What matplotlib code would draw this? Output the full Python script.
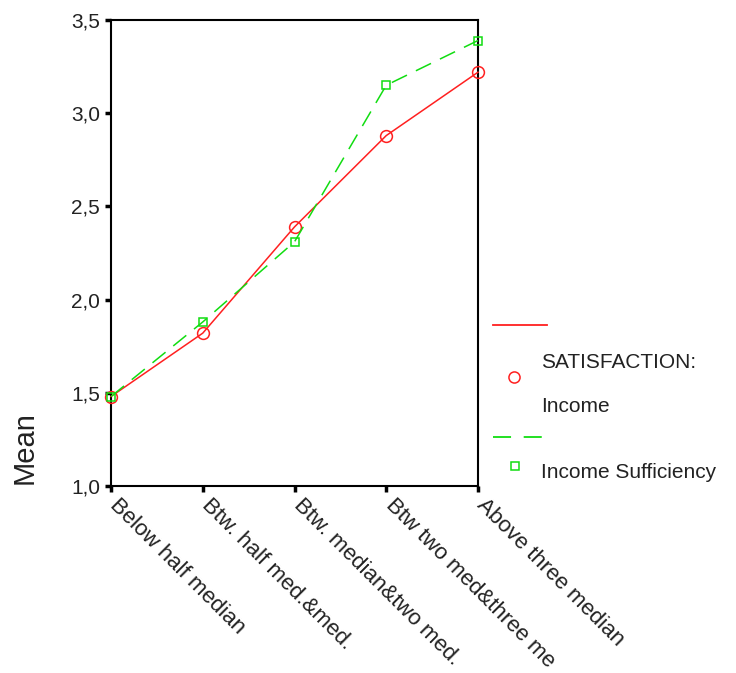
import numpy as np
import matplotlib
matplotlib.use("Agg")
import matplotlib.pyplot as plt
from matplotlib.lines import Line2D
from matplotlib.ticker import FuncFormatter
from matplotlib.transforms import ScaledTranslation

plt.rcParams['font.family'] = ['Liberation Sans', 'DejaVu Sans']

# Data
categories = ['Below half median', 'Btw. half med.&med.', 'Btw. median&two med.',
              'Btw two med&three me', 'Above three median']
satisfaction = [1.48, 1.82, 2.39, 2.88, 3.22]
sufficiency = [1.48, 1.88, 2.31, 3.15, 3.39]
yticks = [1.0, 1.5, 2.0, 2.5, 3.0, 3.5]

RED = '#ff2020'
GREEN = '#11dd11'
TXT = '#222222'

W, H = 736, 673
fig = plt.figure(figsize=(W / 100, H / 100), dpi=100)

def fx(px):
    return px / W

def fy(py):
    return 1 - py / H

ax = fig.add_axes([fx(111), fy(486), fx(478) - fx(111), fy(20) - fy(486)])

x = np.arange(len(categories))
ax.plot(x, satisfaction, color=RED, lw=1.1, marker='o', ms=8.5,
        mfc='none', mec=RED, mew=1.1, clip_on=False, zorder=3)
ax.plot(x, sufficiency, color=GREEN, lw=1.1, ls=(0, (11, 6.5)), marker='s', ms=6,
        mfc='none', mec=GREEN, mew=1.1, clip_on=False, zorder=3)

ax.set_xlim(0, len(categories) - 1)
ax.set_ylim(1.0, 3.5)
ax.set_yticks(yticks)
ax.yaxis.set_major_formatter(FuncFormatter(lambda v, p: f'{v:.1f}'.replace('.', ',')))
ax.set_xticks(x)
ax.set_xticklabels(categories, rotation=-45, ha='left', va='top',
                   rotation_mode='anchor', fontsize=16)
ax.tick_params(axis='both', direction='out', length=4, width=2.5,
               labelsize=15, colors='black', labelcolor=TXT, pad=4)
ax.tick_params(axis='x', labelsize=16, pad=2)
shift = ScaledTranslation(7 / 72, 0, fig.dpi_scale_trans)
for lab in ax.get_xticklabels():
    lab.set_transform(lab.get_transform() + shift)
for s in ax.spines.values():
    s.set_linewidth(1.5)
    s.set_color('black')

fig.text(fx(25), fy(448), 'Mean', fontsize=21, rotation=90, ha='center', va='center',
         color=TXT)

# SPSS-style legend outside the axes
fig.add_artist(Line2D([fx(493), fx(547)], [fy(325), fy(325)], color=RED, lw=1.3,
                      transform=fig.transFigure))
fig.add_artist(Line2D([fx(514)], [fy(377)], color=RED, marker='o', ms=8, mfc='none',
                      mec=RED, mew=1.1, transform=fig.transFigure))
fig.text(fx(541), fy(363), 'SATISFACTION:', fontsize=15, va='center', ha='left',
         color=TXT)
fig.text(fx(541), fy(407), 'Income', fontsize=15, va='center', ha='left',
         color=TXT)
fig.add_artist(Line2D([fx(493), fx(542)], [fy(437), fy(437)], color=GREEN, lw=1.3,
                      ls=(0, (10, 7)), transform=fig.transFigure))
fig.add_artist(Line2D([fx(515)], [fy(466)], color=GREEN, marker='s', ms=5.5, mfc='none',
                      mec=GREEN, mew=1.1, transform=fig.transFigure))
fig.text(fx(541), fy(472), 'Income Sufficiency', fontsize=15, va='center', ha='left',
         color=TXT)

fig.savefig('out.png', dpi=100)
